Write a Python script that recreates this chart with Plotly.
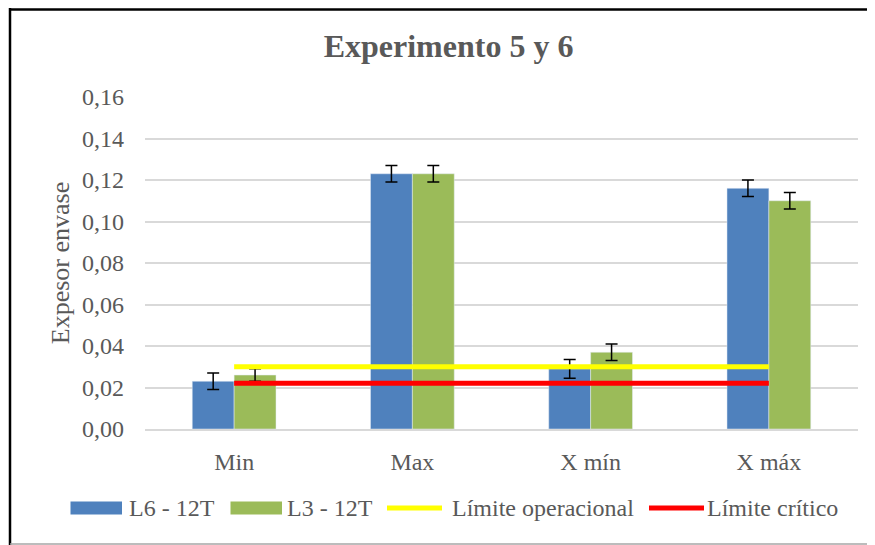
import plotly.graph_objects as go

# Datos
categorias = ['Min', 'Max', 'X mín', 'X máx']
l6_12t = [0.023, 0.123, 0.029, 0.116]
l6_err = [0.004, 0.004, 0.0045, 0.004]
l3_12t = [0.026, 0.123, 0.037, 0.110]
l3_err = [0.003, 0.004, 0.004, 0.004]
limite_operacional = [0.030, 0.030, 0.030, 0.030]
limite_critico = [0.022, 0.022, 0.022, 0.022]

nombres = ['L6 - 12T', 'L3 - 12T', 'Límite operacional', 'Límite crítico']
colores = ['#4F81BD', '#9BBB59', '#FFFF00', '#FF0000']

# la página deja 8px de margen alrededor de la figura
OFF = 8
W, H = 875 - OFF, 545 - OFF
# area de trazado en pixeles de la página
X0, X1, Y0, Y1 = 145, 858, 97, 429
FUENTE = 'Liberation Serif'
GRIS = '#595959'


def px(x):
    return (x - X0) / (X1 - X0)


def py(y):
    return (Y1 - y) / (Y1 - Y0)


fig = go.Figure()

fig.add_trace(go.Bar(
    x=categorias, y=l6_12t, name=nombres[0],
    marker=dict(color=colores[0]),
    error_y=dict(type='data', array=l6_err, color='black', thickness=1.5, width=6),
    showlegend=False
))
fig.add_trace(go.Bar(
    x=categorias, y=l3_12t, name=nombres[1],
    marker=dict(color=colores[1]),
    error_y=dict(type='data', array=l3_err, color='black', thickness=1.5, width=6),
    showlegend=False
))
fig.add_trace(go.Scatter(
    x=categorias, y=limite_operacional, name=nombres[2], mode='lines',
    line=dict(color=colores[2], width=5), showlegend=False
))
fig.add_trace(go.Scatter(
    x=categorias, y=limite_critico, name=nombres[3], mode='lines',
    line=dict(color=colores[3], width=5), showlegend=False
))

# Leyenda manual (estilo Excel)
shapes = []
annotations = []
leyenda = [
    ('rect', 70.5, 122, 127),
    ('rect', 230.5, 282, 285),
    ('line', 387, 442, 450),
    ('line', 649, 704, 705),
]
ly = 508
for (tipo, a, b, t), nombre, color in zip(leyenda, nombres, colores):
    if tipo == 'rect':
        shapes.append(dict(type='rect', xref='paper', yref='paper',
                           x0=px(a), x1=px(b), y0=py(ly + 6.5), y1=py(ly - 6.5),
                           fillcolor=color, line=dict(width=0)))
    else:
        shapes.append(dict(type='line', xref='paper', yref='paper',
                           x0=px(a), x1=px(b), y0=py(ly), y1=py(ly),
                           line=dict(color=color, width=5)))
    annotations.append(dict(text=nombre, xref='paper', yref='paper',
                            x=px(t), y=py(ly), xanchor='left', yanchor='middle',
                            showarrow=False,
                            font=dict(family=FUENTE, size=24, color=GRIS)))

# Borde del gráfico
shapes.append(dict(type='line', xref='paper', yref='paper',
                   x0=px(10), x1=px(880), y0=py(9.5), y1=py(9.5),
                   line=dict(color='black', width=2.5)))
shapes.append(dict(type='line', xref='paper', yref='paper',
                   x0=px(10), x1=px(10), y0=py(8), y1=py(550),
                   line=dict(color='black', width=2.5)))
shapes.append(dict(type='line', xref='paper', yref='paper',
                   x0=px(10), x1=px(880), y0=py(544), y1=py(544),
                   line=dict(color='#A6A6A6', width=1.5)))

fig.update_layout(
    width=W, height=H,
    margin=dict(l=X0 - OFF, r=875 - X1, t=Y0 - OFF, b=545 - Y1),
    paper_bgcolor='white', plot_bgcolor='white',
    separators=',.',
    barmode='group', bargap=0.53, bargroupgap=0,
    title=dict(text='<b>Experimento 5 y 6</b>', x=px(448.5), xref='paper',
               xanchor='center', y=1 - (46 - OFF) / H, yref='container', yanchor='middle',
               font=dict(family=FUENTE, size=32, color=GRIS)),
    font=dict(family=FUENTE, size=24, color=GRIS),
    shapes=shapes,
    annotations=annotations,
)

fig.update_xaxes(
    showline=True, linecolor='#D9D9D9', linewidth=1.5,
    showgrid=False, ticks='', ticklabelstandoff=10,
    tickfont=dict(family=FUENTE, size=24, color=GRIS)
)
fig.update_yaxes(
    range=[0, 0.16], dtick=0.02, tickformat='.2f',
    showgrid=True, gridcolor='#D9D9D9', gridwidth=1.5,
    zeroline=False, showline=False, ticks='', ticklabelstandoff=20,
    tickfont=dict(family=FUENTE, size=24, color=GRIS),
    title=dict(text='Expesor envase', standoff=4,
               font=dict(family=FUENTE, size=26, color=GRIS))
)

fig.write_html("out.html")
